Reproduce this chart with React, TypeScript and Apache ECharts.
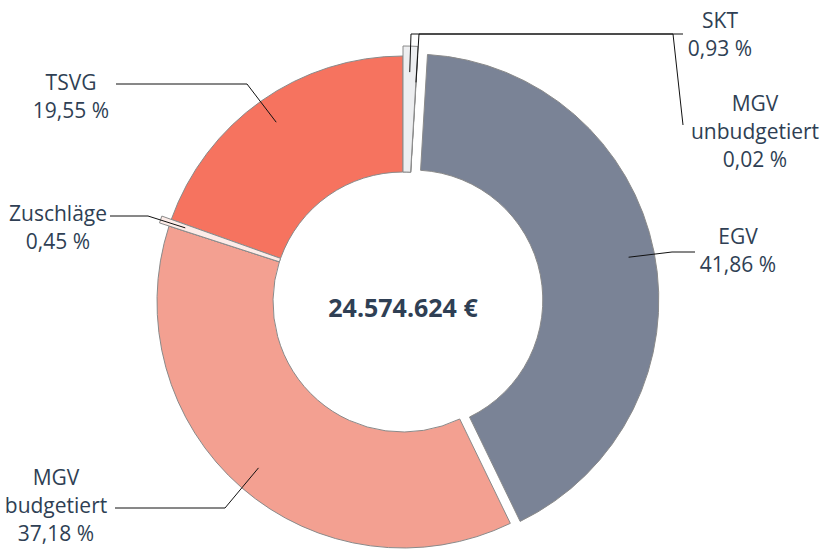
import React, { useEffect, useRef } from "react";
import * as echarts from "echarts";

// ---- data ----
const categories = ["SKT", "MGV unbudgetiert", "EGV", "MGV budgetiert", "Zuschläge", "TSVG"];
const shares = [0.93, 0.02, 41.86, 37.18, 0.45, 19.55];
const totalLabel = "24.574.624 €";
const raisedSlices = ["SKT", "Zuschläge"];
const explodedSlices = ["EGV"];

// ---- styles / layout ----
const COLORS: Record<string, string> = {
  SKT: "#EDEEF0",
  "MGV unbudgetiert": "#FFFFFF",
  EGV: "#7A8396",
  "MGV budgetiert": "#F3A091",
  "Zuschläge": "#FDECE8",
  TSVG: "#F6735F",
};
const TEXT = "#2F3F54";
const BORDER = "#8A8A8A";
const CX = 403;
const CY = 302;
const R_IN = 130;
const R_OUT = 246;
const R_RAISED = 256;
const OFFSET = 10;
const LABEL_POS: Record<string, [number, number]> = {
  SKT: [720, 34],
  "MGV unbudgetiert": [755, 131],
  EGV: [738, 250],
  "MGV budgetiert": [56, 505],
  "Zuschläge": [58, 227],
  TSVG: [71, 96],
};
const LINE_BENDS: Record<string, number[][]> = {
  SKT: [[411, 34], [683, 34]],
  "MGV unbudgetiert": [[419, 34], [673, 34], [683, 125]],
  EGV: [[672, 252], [695, 252]],
  "MGV budgetiert": [[225, 508], [115, 508]],
  "Zuschläge": [[148, 216], [110, 216]],
  TSVG: [[247, 84], [116, 84]],
};

const fmt = (v: number) => v.toFixed(2).replace(".", ",") + " %";
const HIDDEN = { color: "rgba(0,0,0,0)", borderWidth: 0 };
const SHOWN = (name: string) => ({ color: COLORS[name], borderColor: BORDER, borderWidth: 1 });

export default function App() {
  const ref = useRef<HTMLDivElement>(null);
  useEffect(() => {
    if (!ref.current) return;
    const chart = echarts.init(ref.current, null, { renderer: "svg" });

    const total = shares.reduce((a, b) => a + b, 0);
    let cum = 0;
    const mids = shares.map((v) => {
      const mid = ((cum + v / 2) / total) * 2 * Math.PI;
      cum += v;
      return mid;
    });
    const anchors = mids.map((mid, i) => {
      const name = categories[i];
      const outer = raisedSlices.includes(name) ? R_RAISED : R_OUT;
      const off = explodedSlices.includes(name) ? OFFSET : 0;
      const r = outer - 26 + off;
      return [CX + r * Math.sin(mid), CY - r * Math.cos(mid)];
    });

    const basePie = (center: number[], outer: number, visible: (n: string) => boolean, z: number) => ({
      type: "pie",
      center,
      radius: [R_IN, outer],
      startAngle: 90,
      clockwise: true,
      silent: true,
      z,
      emphasis: { disabled: true },
      label: { show: false },
      labelLine: { show: false },
      data: categories.map((name, i) => ({
        name,
        value: shares[i],
        itemStyle: visible(name) ? SHOWN(name) : HIDDEN,
      })),
    });

    const explodedSeries = explodedSlices.map((exName) => {
      const mid = mids[categories.indexOf(exName)];
      return basePie(
        [CX + OFFSET * Math.sin(mid), CY - OFFSET * Math.cos(mid)],
        R_OUT,
        (n) => n === exName,
        2
      );
    });

    chart.setOption({
      animation: false,
      series: [
        basePie([CX, CY], R_OUT, (n) => !explodedSlices.includes(n), 2),
        ...explodedSeries,
        basePie([CX, CY], R_RAISED, (n) => raisedSlices.includes(n), 3),
        {
          type: "pie",
          center: [CX, CY],
          radius: [R_IN, R_OUT],
          startAngle: 90,
          clockwise: true,
          silent: true,
          z: 5,
          avoidLabelOverlap: false,
          emphasis: { disabled: true },
          label: {
            show: true,
            position: "outside",
            color: TEXT,
            fontFamily: "Open Sans",
            fontSize: 21,
            lineHeight: 28,
            align: "center",
            formatter: (p: any) => p.name.replace(" ", "\n") + "\n" + fmt(p.value),
          },
          labelLine: { show: true, lineStyle: { color: "#111", width: 1 } },
          labelLayout: (p: any) => {
            const name = categories[p.dataIndex];
            const pos = LABEL_POS[name];
            return {
              x: pos[0],
              y: pos[1],
              align: "center",
              verticalAlign: "middle",
              labelLinePoints: [anchors[p.dataIndex], ...LINE_BENDS[name]],
            };
          },
          data: categories.map((name, i) => ({ name, value: shares[i], itemStyle: HIDDEN })),
        },
      ],
      graphic: [
        {
          type: "text",
          x: CX,
          y: CY + 5,
          z: 100,
          style: {
            text: totalLabel,
            fontFamily: "Open Sans",
            fontWeight: "bold",
            fontSize: 25,
            fill: TEXT,
            align: "center",
            verticalAlign: "middle",
          },
        },
      ],
    });
    return () => chart.dispose();
  }, []);
  return (
    <div
      ref={ref}
      style={{ position: "fixed", left: 0, top: 0, width: 827, height: 552, background: "#fff" }}
    />
  );
}
